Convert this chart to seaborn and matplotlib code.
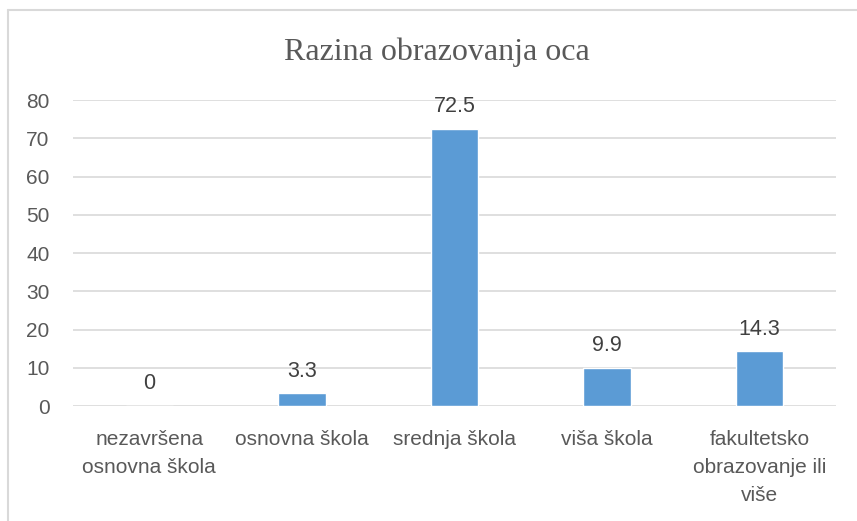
import matplotlib
matplotlib.use("Agg")
import matplotlib.pyplot as plt
import seaborn as sns
import pandas as pd
from matplotlib.lines import Line2D

categories = [
    "nezavršena\nosnovna škola",
    "osnovna škola",
    "srednja škola",
    "viša škola",
    "fakultetsko\nobrazovanje ili\nviše",
]
values = [0, 3.3, 72.5, 9.9, 14.3]
value_labels = ["0", "3.3", "72.5", "9.9", "14.3"]
y_ticks = [0, 10, 20, 30, 40, 50, 60, 70, 80]

sns.set_style("white")
plt.rcParams["font.family"] = ["Liberation Sans", "DejaVu Sans"]

df = pd.DataFrame({"kategorija": categories, "postotak": values})

fig = plt.figure(figsize=(8.57, 5.21), dpi=100)
ax = fig.add_axes([0.0852, 0.2207, 0.8903, 0.5873])

sns.barplot(data=df, x="kategorija", y="postotak", color="#5B9BD5",
            saturation=1, width=0.31, ax=ax, zorder=3)

ax.set_ylim(0, 80)
ax.set_xlim(-0.5, 4.5)
ax.set_yticks(y_ticks)
ax.yaxis.grid(True, color="#D9D9D9", linewidth=1.2, zorder=0)
ax.set_axisbelow(True)
for s in ax.spines.values():
    s.set_visible(False)
ax.set_xlabel("")
ax.set_ylabel("")
ax.tick_params(axis="both", length=0, labelsize=15, colors="#595959")
ax.tick_params(axis="y", pad=17)
ax.tick_params(axis="x", pad=17)
for lbl in ax.get_xticklabels():
    lbl.set_linespacing(1.6)

for i, (v, t) in enumerate(zip(values, value_labels)):
    ax.annotate(t, (i, v), xytext=(0, 12), textcoords="offset points",
                ha="center", va="baseline", fontsize=15.5, color="#404040")

fig.text(437 / 857, 1 - 52 / 521, "Razina obrazovanja oca", ha="center", va="center",
         fontsize=23, color="#595959", family=["Liberation Serif", "DejaVu Serif"])

# border of the chart area (top and left edges only visible)
fig.add_artist(Line2D([8 / 857, 1], [1 - 10 / 521, 1 - 10 / 521],
                      transform=fig.transFigure, color="#D9D9D9", linewidth=1.5))
fig.add_artist(Line2D([8 / 857, 8 / 857], [0, 1 - 10 / 521],
                      transform=fig.transFigure, color="#D9D9D9", linewidth=1.5))

fig.savefig("out.png", dpi=100)
